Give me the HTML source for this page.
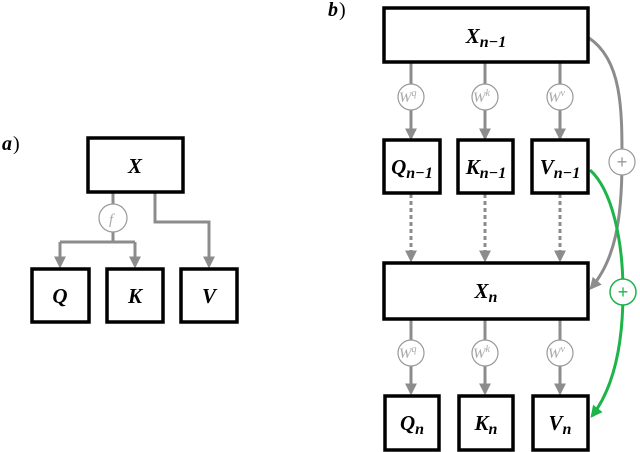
<!DOCTYPE html>
<html><head><style>
body{margin:0;background:#fff}
svg{display:block}
.b{fill:#fff;stroke:#000;stroke-width:3.5}
.t{font-family:"Liberation Serif",serif;font-weight:bold;font-style:italic;fill:#000}
.g{stroke:#8c8c8c;stroke-width:3;fill:none}
.d{stroke:#8c8c8c;stroke-width:3;fill:none;stroke-dasharray:4,3}
.c{fill:#fff;stroke:#999;stroke-width:1.2}
.w{font-family:"Liberation Serif",serif;font-style:italic;fill:#aaa;font-size:15px}
</style></head><body>
<svg width="640" height="452" viewBox="0 0 640 452">
<defs>
<marker id="ag" viewBox="0 0 10 10" refX="8" refY="5" markerWidth="4" markerHeight="4" orient="auto"><path d="M0,0L10,5L0,10z" fill="#8c8c8c"/></marker>
<marker id="agr" viewBox="0 0 10 10" refX="8" refY="5" markerWidth="4" markerHeight="4" orient="auto"><path d="M0,0L10,5L0,10z" fill="#1db44a"/></marker>
</defs>
<!-- a -->
<text x="2" y="150" class="t" font-size="20">a</text><text x="13" y="150" font-family="Liberation Serif" font-size="20">)</text>
<path class="g" d="M113,192V242M60,242H135"/>
<path class="g" d="M60,242V266" marker-end="url(#ag)"/>
<path class="g" d="M135,242V266" marker-end="url(#ag)"/>
<path class="g" d="M155,192V222H209V266" marker-end="url(#ag)"/>
<circle class="c" cx="113" cy="218" r="14"/>
<text x="109" y="224" class="w" font-size="16">f</text>
<rect class="b" x="88" y="138" width="95" height="54"/>
<text x="135" y="173" class="t" font-size="21" text-anchor="middle">X</text>
<rect class="b" x="32" y="269" width="57" height="53"/>
<rect class="b" x="107" y="269" width="56" height="53"/>
<rect class="b" x="181" y="269" width="56" height="53"/>
<text x="60" y="303" class="t" font-size="21" text-anchor="middle">Q</text>
<text x="135" y="303" class="t" font-size="21" text-anchor="middle">K</text>
<text x="209" y="303" class="t" font-size="21" text-anchor="middle">V</text>
<!-- b -->
<text x="328" y="16" class="t" font-size="20">b</text><text x="339" y="16" font-family="Liberation Serif" font-size="20">)</text>
<path class="g" d="M589,38C622,60 622,110 622,160C622,220 615,260 591,288" marker-end="url(#ag)"/>
<path d="M590,170C612,190 623,240 623,292C623,350 612,390 592,416" stroke="#1db44a" stroke-width="3" fill="none" marker-end="url(#agr)"/>
<path class="g" d="M411,62V138" marker-end="url(#ag)"/>
<path class="g" d="M485,62V138" marker-end="url(#ag)"/>
<path class="g" d="M560,62V138" marker-end="url(#ag)"/>
<path class="g" d="M411,319V393" marker-end="url(#ag)"/>
<path class="g" d="M485,319V393" marker-end="url(#ag)"/>
<path class="g" d="M560,319V393" marker-end="url(#ag)"/>
<path class="d" d="M411,194V260" marker-end="url(#ag)"/>
<path class="d" d="M485,194V260" marker-end="url(#ag)"/>
<path class="d" d="M560,194V260" marker-end="url(#ag)"/>
<circle class="c" cx="411" cy="97" r="13"/><circle class="c" cx="485" cy="97" r="13"/><circle class="c" cx="560" cy="97" r="13"/>
<circle class="c" cx="411" cy="353" r="13"/><circle class="c" cx="485" cy="353" r="13"/><circle class="c" cx="560" cy="353" r="13"/>
<text x="399" y="102" class="w">W<tspan font-size="10" dy="-6">q</tspan></text>
<text x="473" y="102" class="w">W<tspan font-size="10" dy="-6">k</tspan></text>
<text x="548" y="102" class="w">W<tspan font-size="10" dy="-6">v</tspan></text>
<text x="399" y="358" class="w">W<tspan font-size="10" dy="-6">q</tspan></text>
<text x="473" y="358" class="w">W<tspan font-size="10" dy="-6">k</tspan></text>
<text x="548" y="358" class="w">W<tspan font-size="10" dy="-6">v</tspan></text>
<circle cx="622" cy="162" r="13" fill="#fff" stroke="#999" stroke-width="1.2"/>
<text x="622" y="168" text-anchor="middle" fill="#999" font-family="Liberation Sans" font-size="18">+</text>
<circle cx="623" cy="292" r="13" fill="#fff" stroke="#1db44a" stroke-width="1.5"/>
<text x="623" y="298" text-anchor="middle" fill="#1db44a" font-family="Liberation Sans" font-size="18">+</text>
<rect class="b" x="384" y="8" width="204" height="54"/>
<text x="486" y="43" class="t" font-size="21" text-anchor="middle">X<tspan font-size="16" dy="4">n−1</tspan></text>
<rect class="b" x="384" y="140" width="56" height="53"/>
<rect class="b" x="458" y="140" width="55" height="53"/>
<rect class="b" x="532" y="140" width="56" height="53"/>
<text x="412" y="174" class="t" font-size="21" text-anchor="middle">Q<tspan font-size="16" dy="4">n−1</tspan></text>
<text x="486" y="174" class="t" font-size="21" text-anchor="middle">K<tspan font-size="16" dy="4">n−1</tspan></text>
<text x="560" y="174" class="t" font-size="21" text-anchor="middle">V<tspan font-size="16" dy="4">n−1</tspan></text>
<rect class="b" x="384" y="263" width="204" height="56"/>
<text x="486" y="298" class="t" font-size="21" text-anchor="middle">X<tspan font-size="16" dy="4">n</tspan></text>
<rect class="b" x="385" y="396" width="54" height="54"/>
<rect class="b" x="459" y="396" width="54" height="54"/>
<rect class="b" x="533" y="396" width="55" height="54"/>
<text x="412" y="430" class="t" font-size="21" text-anchor="middle">Q<tspan font-size="16" dy="4">n</tspan></text>
<text x="486" y="430" class="t" font-size="21" text-anchor="middle">K<tspan font-size="16" dy="4">n</tspan></text>
<text x="560" y="430" class="t" font-size="21" text-anchor="middle">V<tspan font-size="16" dy="4">n</tspan></text>
</svg>
</body></html>
